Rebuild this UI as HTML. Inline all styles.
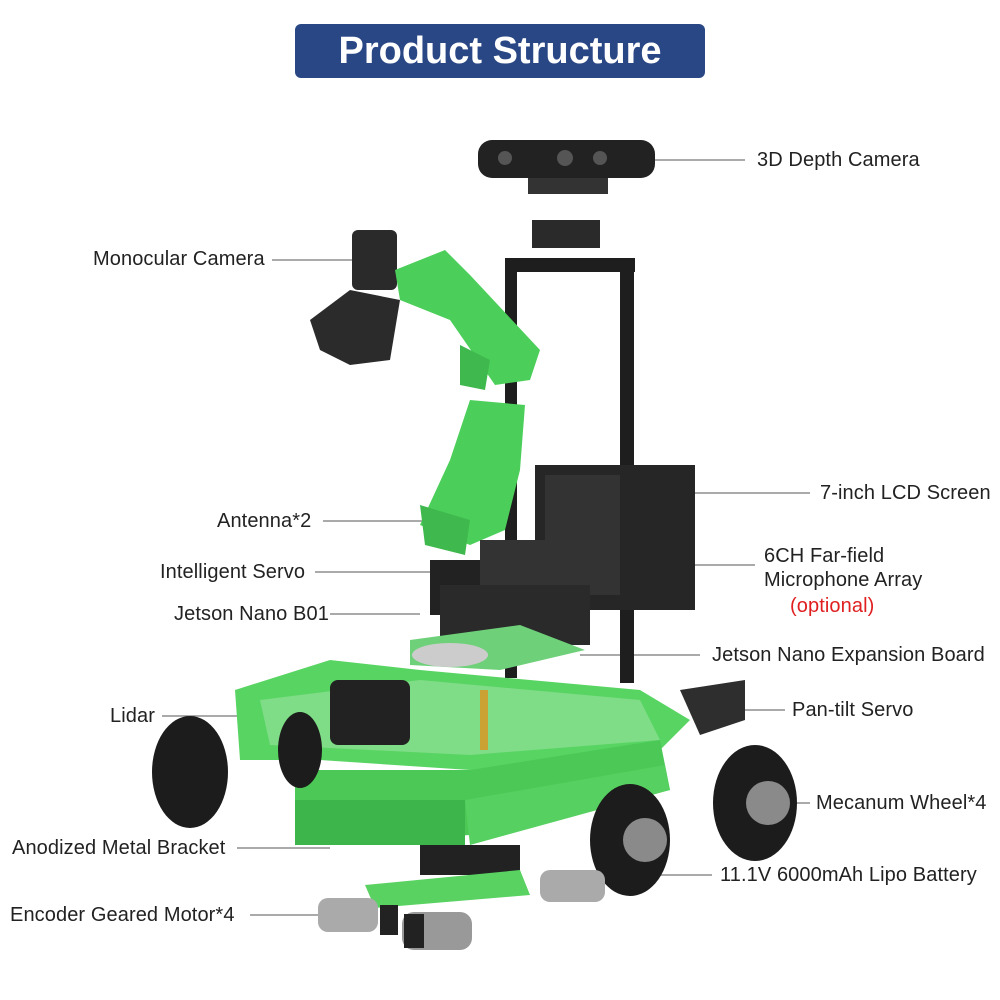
<!DOCTYPE html>
<html><head><meta charset="utf-8"><style>
html,body{margin:0;padding:0;background:#fff}
body{width:1000px;height:1000px;position:relative;overflow:hidden;font-family:"Liberation Sans",sans-serif}
.t{position:absolute;font-size:20px;letter-spacing:0.1px;color:#222;white-space:nowrap;line-height:22px}
</style></head><body>
<div style="position:absolute;left:295px;top:24px;width:410px;height:54px;background:#2a4785;border-radius:6px;color:#fff;font-size:38px;font-weight:bold;text-align:center;line-height:54px">Product Structure</div>
<svg width="1000" height="1000" style="position:absolute;left:0;top:0">
<g stroke="#777" stroke-width="1.2">
<line x1="655" y1="160" x2="745" y2="160"/>
<line x1="272" y1="260" x2="360" y2="260"/>
<line x1="695" y1="493" x2="810" y2="493"/>
<line x1="323" y1="521" x2="510" y2="521"/>
<line x1="575" y1="565" x2="755" y2="565"/>
<line x1="315" y1="572" x2="430" y2="572"/>
<line x1="330" y1="614" x2="420" y2="614"/>
<line x1="580" y1="655" x2="700" y2="655"/>
<line x1="162" y1="716" x2="330" y2="716"/>
<line x1="700" y1="710" x2="785" y2="710"/>
<line x1="790" y1="803" x2="810" y2="803"/>
<line x1="237" y1="848" x2="330" y2="848"/>
<line x1="600" y1="875" x2="712" y2="875"/>
<line x1="250" y1="915" x2="320" y2="915"/>
</g>
<rect x="478" y="140" width="177" height="38" rx="14" fill="#222"/>
<circle cx="505" cy="158" r="7" fill="#555"/><circle cx="565" cy="158" r="8" fill="#555"/><circle cx="600" cy="158" r="7" fill="#555"/>
<rect x="528" y="178" width="80" height="16" fill="#333"/>
<rect x="532" y="220" width="68" height="28" fill="#2a2a2a"/>
<rect x="505" y="258" width="130" height="14" fill="#1e1e1e"/>
<rect x="505" y="258" width="12" height="420" fill="#1e1e1e"/>
<rect x="620" y="258" width="14" height="425" fill="#1e1e1e"/>
<rect x="535" y="465" width="160" height="145" fill="#262626"/>
<rect x="545" y="475" width="75" height="120" fill="#333"/>
<rect x="352" y="230" width="45" height="60" rx="6" fill="#2a2a2a"/>
<polygon points="310,320 350,290 400,300 390,360 350,365 320,350" fill="#2b2b2b"/>
<polygon points="395,270 445,250 470,275 540,350 530,380 495,385 450,320 400,300" fill="#4ccf5a"/>
<polygon points="460,345 490,360 485,390 460,385" fill="#3fb84e"/>
<polygon points="470,400 525,405 520,470 505,530 470,545 420,525 450,460" fill="#4ccf5a"/>
<polygon points="420,505 470,520 465,555 425,545" fill="#3fb84e"/>
<rect x="430" y="560" width="55" height="55" fill="#222"/>
<rect x="480" y="540" width="100" height="50" fill="#333"/>
<rect x="440" y="585" width="150" height="60" fill="#2a2a2a"/>
<polygon points="410,640 520,625 585,650 500,670 410,665" fill="#6fd07a"/>
<ellipse cx="450" cy="655" rx="38" ry="12" fill="#ccc"/>
<polygon points="235,690 330,660 420,670 640,690 690,720 650,760 470,770 320,760 240,760" fill="#58d462"/>
<polygon points="260,700 420,680 640,700 660,740 470,755 270,745" fill="#8ee196" opacity=".7"/>
<rect x="330" y="680" width="80" height="65" rx="8" fill="#222"/>
<rect x="480" y="690" width="8" height="60" fill="#c9a233"/>
<polygon points="295,770 470,770 660,740 670,790 470,835 295,845" fill="#4bc856"/>
<polygon points="295,800 465,800 465,845 295,845" fill="#3eb54b"/>
<polygon points="465,800 665,765 670,790 470,845" fill="#56d060"/>
<polygon points="680,690 745,680 745,720 700,735" fill="#2e2e2e"/>
<ellipse cx="190" cy="772" rx="38" ry="56" fill="#1c1c1c"/>
<ellipse cx="300" cy="750" rx="22" ry="38" fill="#1c1c1c"/>
<ellipse cx="755" cy="803" rx="42" ry="58" fill="#1c1c1c"/>
<circle cx="768" cy="803" r="22" fill="#8a8a8a"/>
<ellipse cx="630" cy="840" rx="40" ry="56" fill="#1c1c1c"/>
<circle cx="645" cy="840" r="22" fill="#8a8a8a"/>
<rect x="420" y="845" width="100" height="30" fill="#222"/>
<polygon points="365,885 520,870 530,895 375,908" fill="#5ad262"/>
<rect x="318" y="898" width="60" height="34" rx="10" fill="#aaa"/>
<rect x="402" y="912" width="70" height="38" rx="12" fill="#999"/>
<rect x="540" y="870" width="65" height="32" rx="10" fill="#aaa"/>
<rect x="380" y="905" width="18" height="30" fill="#222"/>
<rect x="404" y="914" width="20" height="34" fill="#222"/>
</svg>
<div class="t" style="left:757px;top:149px">3D Depth Camera</div>
<div class="t" style="left:93px;top:248px">Monocular Camera</div>
<div class="t" style="left:820px;top:482px">7-inch LCD Screen</div>
<div class="t" style="left:217px;top:510px">Antenna*2</div>
<div class="t" style="left:764px;top:545px">6CH Far-field</div>
<div class="t" style="left:764px;top:569px">Microphone Array</div>
<div class="t" style="left:790px;top:595px;color:#e02020">(optional)</div>
<div class="t" style="left:160px;top:561px">Intelligent Servo</div>
<div class="t" style="left:174px;top:603px">Jetson Nano B01</div>
<div class="t" style="left:712px;top:644px">Jetson Nano Expansion Board</div>
<div class="t" style="left:110px;top:705px">Lidar</div>
<div class="t" style="left:792px;top:699px">Pan-tilt Servo</div>
<div class="t" style="left:816px;top:792px">Mecanum Wheel*4</div>
<div class="t" style="left:12px;top:837px">Anodized Metal Bracket</div>
<div class="t" style="left:720px;top:864px">11.1V 6000mAh Lipo Battery</div>
<div class="t" style="left:10px;top:904px">Encoder Geared Motor*4</div>
</body></html>
